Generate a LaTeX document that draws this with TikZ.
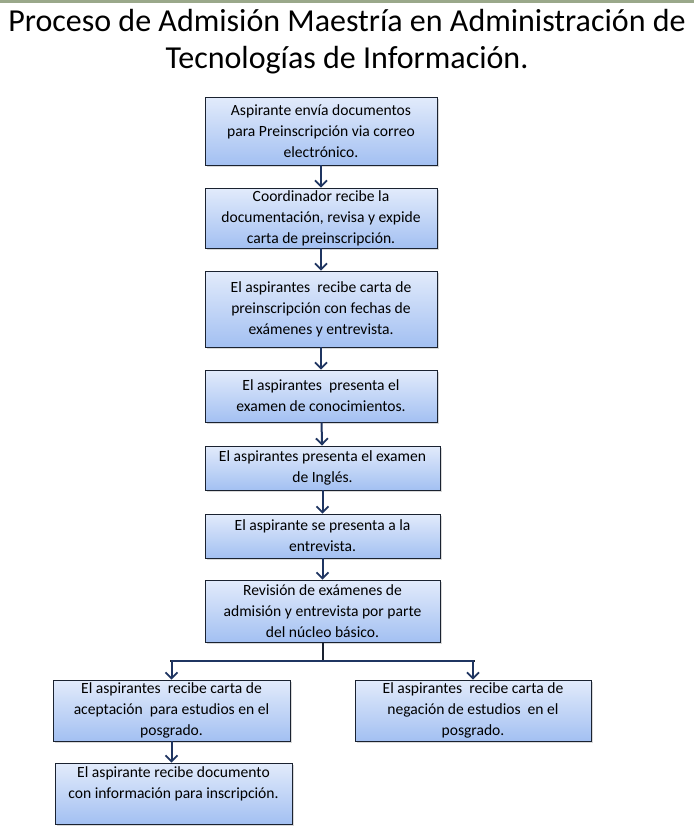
\documentclass[tikz,border=0pt]{standalone}
\usepackage{fontspec}
\setmainfont{Carlito}
\usetikzlibrary{arrows.meta,shadows}
\definecolor{topline}{HTML}{9AA88A}
\definecolor{boxtop}{HTML}{E2EBFB}
\definecolor{boxbot}{HTML}{A3C0F2}
\definecolor{boxline}{HTML}{1A2230}
\definecolor{arrcol}{HTML}{1F3561}
\tikzset{
  stepbox/.style={draw=boxline, line width=0.9pt, top color=boxtop, bottom color=boxbot,
    align=center, inner sep=2pt, font=\fontsize{15.6}{21}\selectfont,
    drop shadow={shadow xshift=1.8pt, shadow yshift=-1.8pt, opacity=0.3}},
  arr/.style={draw=arrcol, line width=2pt, -{Straight Barb[length=6pt,width=12pt,line width=1.8pt]}},
  plain/.style={draw=boxline, line width=2pt}
}
\begin{document}
\begin{tikzpicture}[x=1pt,y=-1pt]
\useasboundingbox (0,0) rectangle (694,836);
\fill[topline] (0,0) rectangle (694,2.5);
\node[font=\fontsize{32}{37}\selectfont, align=center] (title) at (347,42)
  {Proceso de Admisión Maestría en Administración de\\Tecnologías de Información.};
\node[stepbox, minimum width=232pt, minimum height=68pt] (b1) at (321,131)
  {Aspirante envía documentos\\para Preinscripción via correo\\electrónico.};
\node[stepbox, minimum width=232pt, minimum height=60pt] (b2) at (321,218)
  {Coordinador recibe la\\documentación, revisa y expide\\carta de preinscripción.};
\node[stepbox, minimum width=232pt, minimum height=76pt] (b3) at (321,309)
  {El aspirantes \ recibe carta de\\preinscripción con fechas de\\exámenes y entrevista.};
\node[stepbox, minimum width=232pt, minimum height=52pt] (b4) at (321,396)
  {El aspirantes \ presenta el\\examen de conocimientos.};
\node[stepbox, minimum width=235pt, minimum height=44pt] (b5) at (322.5,468)
  {El aspirantes presenta el examen\\de Inglés.};
\node[stepbox, minimum width=235pt, minimum height=44pt] (b6) at (322.5,536)
  {El aspirante se presenta a la\\entrevista.};
\node[stepbox, minimum width=235pt, minimum height=62pt] (b7) at (322.5,611)
  {Revisión de exámenes de\\admisión y entrevista por parte\\del núcleo básico.};
\node[stepbox, minimum width=237pt, minimum height=61pt] (l1) at (171.5,710.5)
  {El aspirantes \ recibe carta de\\aceptación \ para estudios en el\\posgrado.};
\node[stepbox, minimum width=236pt, minimum height=61pt] (r1) at (473,710.5)
  {El aspirantes \ recibe carta de\\negación de estudios \ en el\\posgrado.};
\node[stepbox, minimum width=237pt, minimum height=61pt] (l2) at (173.5,793.5)
  {El aspirante recibe documento\\con información para inscripción.\\\mbox{}};
\draw[arr] (b1) -- (b2);
\draw[arr] (b2) -- (b3);
\draw[arr] (b3) -- (b4);
\draw[arr] (b4) -- (b5);
\draw[arr] (b5) -- (b6);
\draw[arr] (b6) -- (b7);
\coordinate (br) at (322.5,661);
\draw[plain] (b7.south) -- (br);
\draw[plain] (170,661) -- (475,661);
\draw[arr] (br) -| (l1.north);
\draw[arr] (br) -| (r1.north);
\draw[arr] (l1.south) -- (l1.south |- l2.north);
\end{tikzpicture}
\end{document}
